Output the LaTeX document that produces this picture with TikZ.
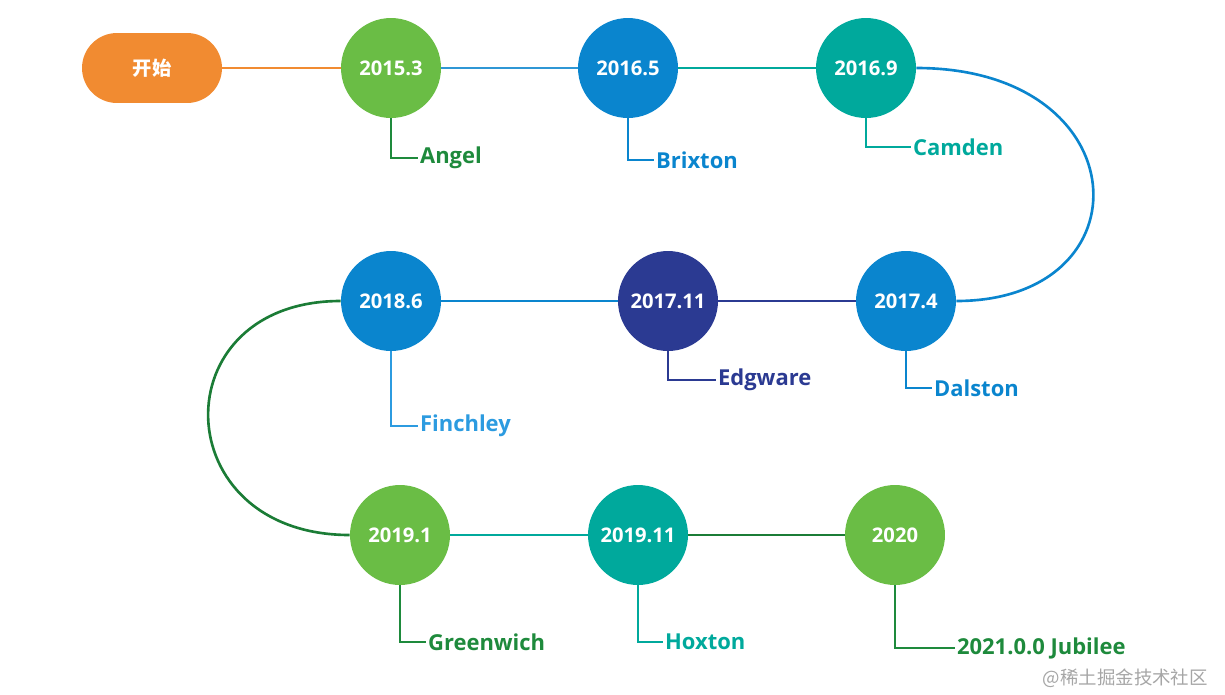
\documentclass[tikz,border=0pt]{standalone}
\usepackage{fontspec}
\setmainfont{Open Sans}
\newfontfamily\cjk{Noto Sans CJK SC}
\usepackage{xcolor}
\usetikzlibrary{positioning}

\definecolor{startorange}{HTML}{F18B31}
\definecolor{stationgreen}{HTML}{6ABD45}
\definecolor{stationblue}{HTML}{0A85CE}
\definecolor{stationteal}{HTML}{00A99C}
\definecolor{stationnavy}{HTML}{2B3A92}
\definecolor{labelgreen}{HTML}{1E8A3C}
\definecolor{labelblue}{HTML}{2C9BE0}

\begin{document}
\begin{tikzpicture}[x=0.02cm, y=-0.02cm]
            \tikzset{
                start_node/.style={fill=startorange, shape = rectangle, rounded corners=0.7cm, minimum width=2.8cm, minimum height=1.4cm, text=white, font=\cjk\bfseries\fontsize{11}{13}\selectfont},
                station/.style={fill=#1, shape = circle, minimum size=2cm, inner sep=0pt, text=white, font=\bfseries\fontsize{11.5}{13}\selectfont},
                place/.style={anchor=west, inner sep=1pt, text=#1, font=\bfseries\fontsize{12.5}{14}\selectfont},
                track/.style={draw=#1, line width=1.5pt},
                leader/.style={draw=#1, line width=1.3pt}
            }
            \useasboundingbox (0,0) rectangle (1225,694);
            \node[start_node] (S) at (152,68) {开始};
            \node[station=stationgreen] (A) at (391,68) {2015.3};
            \node[station=stationblue] (B) at (628,68) {2016.5};
            \node[station=stationteal] (C) at (866,68) {2016.9};
            \node[station=stationblue] (D) at (906,301) {2017.4};
            \node[station=stationnavy] (E) at (668,301) {2017.11};
            \node[station=stationblue] (F) at (391,301) {2018.6};
            \node[station=stationgreen] (G) at (400,535) {2019.1};
            \node[station=stationteal] (H) at (638,535) {2019.11};
            \node[station=stationgreen] (J) at (895,535) {2020};
            % tracks between stations
            \path[track=startorange] (S) -- (A);
            \path[track=stationblue!85!white] (A) -- (B);
            \path[track=stationteal] (B) -- (C);
            \path[track=stationblue] (C.east) .. controls (1140,68) and (1150,301) .. (D.east);
            \path[track=stationnavy] (D) -- (E);
            \path[track=stationblue] (E) -- (F);
            \path[track=labelgreen!90!black] (F.west) .. controls (160,301) and (165,535) .. (G.west);
            \path[track=stationteal] (G) -- (H);
            \path[track=labelgreen!90!black] (H) -- (J);
            % place names
            \node[place=labelgreen] (a) at (418,158) {Angel};
            \node[place=stationblue] (b) at (654,160) {Brixton};
            \node[place=stationteal] (c) at (911,147) {Camden};
            \node[place=stationblue] (d) at (932,388) {Dalston};
            \node[place=stationnavy] (e) at (716,380) {Edgware};
            \node[place=labelblue] (f) at (418,426) {Finchley};
            \node[place=labelgreen] (g) at (426,642) {Greenwich};
            \node[place=stationteal] (h) at (663,642) {Hoxton};
            \node[place=labelgreen] (j) at (955,648) {2021.0.0 Jubilee};
            \path[leader=labelgreen] (A.south) |- (a.west);
            \path[leader=stationblue] (B.south) |- (b.west);
            \path[leader=stationteal] (C.south) |- (c.west);
            \path[leader=stationblue] (D.south) |- (d.west);
            \path[leader=stationnavy] (E.south) |- (e.west);
            \path[leader=labelblue] (F.south) |- (f.west);
            \path[leader=labelgreen] (G.south) |- (g.west);
            \path[leader=stationteal] (H.south) |- (h.west);
            \path[leader=labelgreen] (J.south) |- (j.west);
            \node[anchor=east, text=black!35, font=\cjk\fontsize{10.5}{12}\selectfont] (wm) at (1214,678) {@稀土掘金技术社区};
        \end{tikzpicture}
\end{document}
